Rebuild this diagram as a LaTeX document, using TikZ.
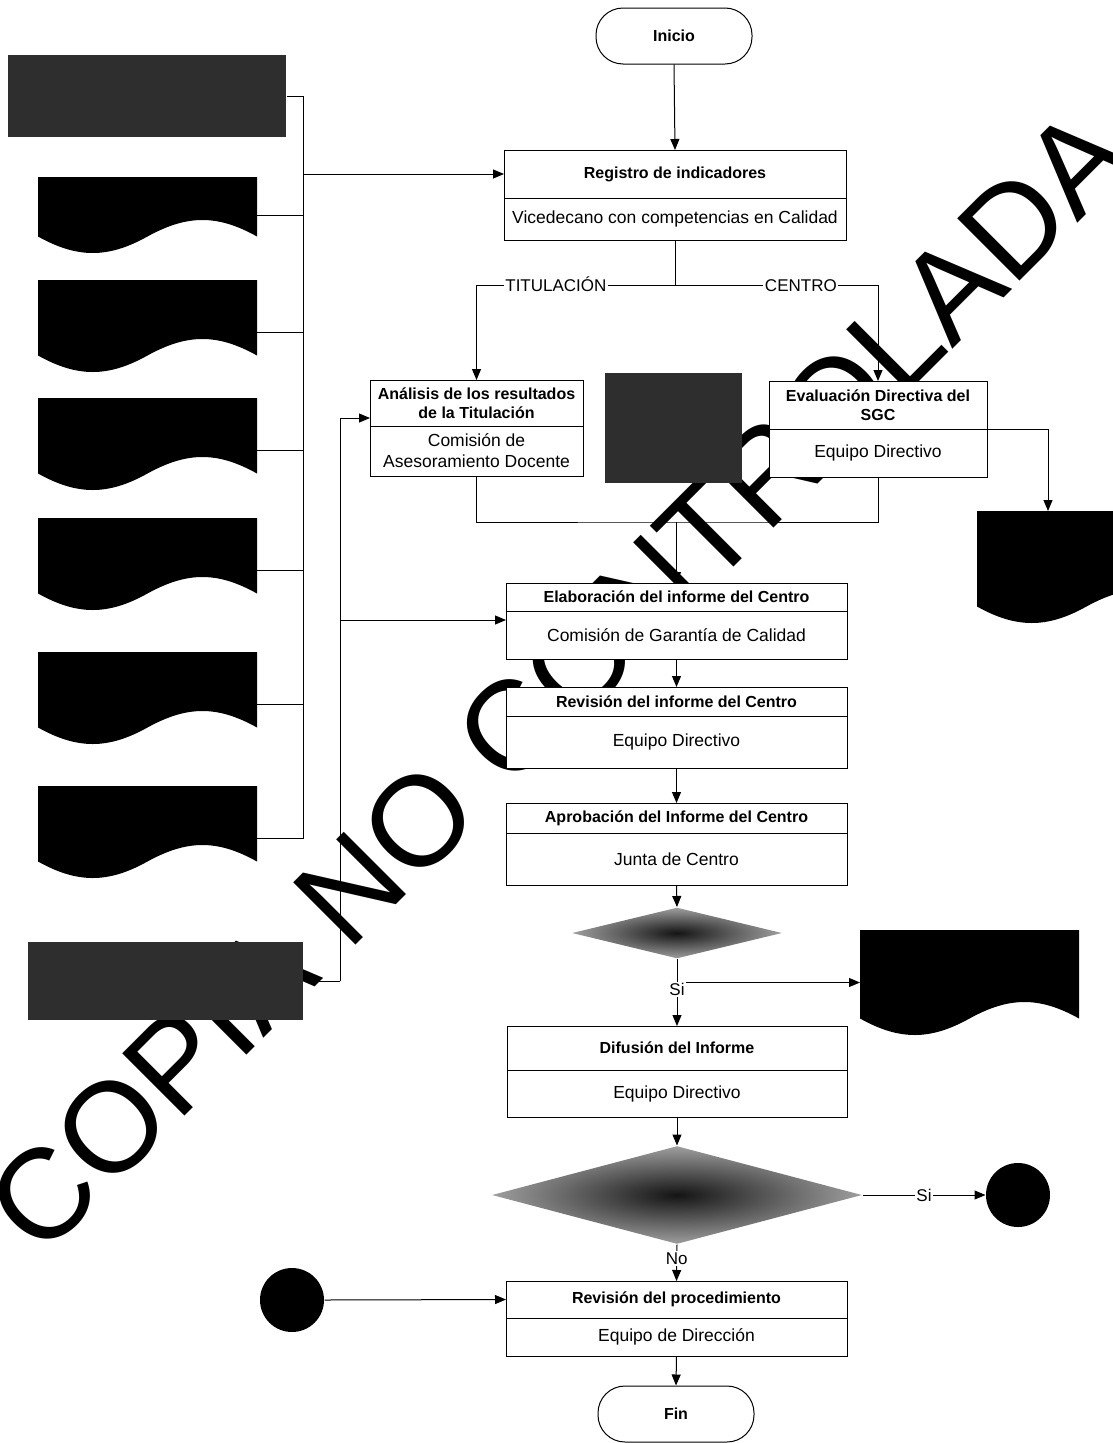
\documentclass[tikz,border=0pt]{standalone}
\usepackage{fontspec}
\setmainfont{Liberation Sans}
\usetikzlibrary{arrows.meta,positioning,shapes.geometric,calc}

\tikzset{
  titulo/.style={draw, fill=white, font=\bfseries\fontsize{16}{19.5}\selectfont, align=center, inner sep=1pt, outer sep=0pt},
  rol/.style={draw, fill=white, font=\fontsize{17.5}{21}\selectfont, align=center, inner sep=1pt, outer sep=0pt},
  terminal/.style={draw, fill=white, rounded corners=27pt, minimum width=156pt, minimum height=56pt, font=\bfseries\fontsize{16}{19}\selectfont},
  gris/.style={fill=black!82, inner sep=0pt},
  decision/.style={diamond, inner sep=0pt, inner color=black!92, outer color=black!38},
  conector/.style={circle, fill=black, minimum size=64pt, inner sep=0pt},
  etiqueta/.style={fill=white, inner sep=1.5pt, text height=12.2pt, text depth=0pt, font=\fontsize{17}{19}\selectfont},
  docbox/.style={minimum width=219pt, inner sep=0pt, outer sep=0pt, anchor=north west},
}

% 文档形状: 名称, x, y, 高
\newcommand{\documento}[4]{%
  \node[docbox, minimum height=#4] (#1) at (#2,#3) {};
  \fill (#1.north west) -- (#1.north east) -- ([yshift=16.5pt]#1.south east)
    .. controls ([xshift=-39.4pt,yshift=38.5pt]#1.south east) and ([xshift=-69.6pt,yshift=38.5pt]#1.south east) .. ([yshift=16.5pt]#1.south)
    .. controls ([xshift=-39.4pt,yshift=-5.5pt]#1.south) and ([xshift=-70.1pt,yshift=-5.5pt]#1.south) .. ([yshift=16.5pt]#1.south west) -- cycle;
}

\begin{document}
\begin{tikzpicture}[x=1pt, y=-1pt, >={Triangle[length=11pt,width=9pt]}, line width=1pt]
  \useasboundingbox (0,0) rectangle (1112,1443);
  % 水印
  \node[rotate=45, font=\fontsize{128}{128}\selectfont] (marca) at (559,680) {COPIA NO CONTROLADA};
  % 左侧输入
  \node[gris, minimum width=278pt, minimum height=82pt] (gris1) at (147,96) {};
  \documento{d1}{38}{177}{76}
  \documento{d2}{38}{280}{92}
  \documento{d3}{38}{398}{92}
  \documento{d4}{38}{518}{92}
  \documento{d5}{38}{652}{92}
  \documento{d6}{38}{786}{92}
  \node[gris, minimum width=275pt, minimum height=78pt] (gris2) at (165.5,981) {};
  % 右侧输出
  \node[gris, minimum width=137pt, minimum height=110pt] (gris3) at (673.5,428) {};
  \documento{d7}{977}{511}{112}
  \documento{d8}{860}{930}{105}

  % 开始
  \node[terminal] (inicio) at (674,36) {Inicio};
  % 登记
  \node[titulo, minimum width=342pt, minimum height=48pt] (reg) at (675,174) {Registro de indicadores};
  \node[rol, minimum width=342pt, minimum height=42pt, below=0pt of reg] (regr) {Vicedecano con competencias en Calidad};
  % 两个分支
  \node[titulo, minimum width=213pt, minimum height=46pt] (ana) at (476.5,403) {Análisis de los resultados\\de la Titulación};
  \node[rol, minimum width=213pt, minimum height=50pt, below=0pt of ana] (anar) {Comisión de\\Asesoramiento Docente};
  \node[titulo, minimum width=218pt, minimum height=48pt] (eva) at (878,405) {Evaluación Directiva del\\SGC};
  \node[rol, minimum width=218pt, minimum height=48pt, below=0pt of eva] (evar) {Equipo Directivo};
  % 报告
  \node[titulo, minimum width=341pt, minimum height=28pt] (elab) at (676.5,597) {Elaboración del informe del Centro};
  \node[rol, minimum width=341pt, minimum height=48pt, below=0pt of elab] (elabr) {Comisión de Garantía de Calidad};
  \node[titulo, minimum width=341pt, minimum height=29pt] (revi) at (676.5,701.5) {Revisión del informe del Centro};
  \node[rol, minimum width=341pt, minimum height=52pt, below=0pt of revi] (revir) {Equipo Directivo};
  \node[titulo, minimum width=341pt, minimum height=30pt] (apro) at (676.5,818) {Aprobación del Informe del Centro};
  \node[rol, minimum width=341pt, minimum height=52pt, below=0pt of apro] (apror) {Junta de Centro};
  % 判断 1
  \node[decision, minimum width=210pt, minimum height=51pt] (dec1) at (677,933) {};
  % 发布
  \node[titulo, minimum width=340pt, minimum height=44pt] (dif) at (677,1048) {Difusión del Informe};
  \node[rol, minimum width=340pt, minimum height=47pt, below=0pt of dif] (difr) {Equipo Directivo};
  % 判断 2
  \node[decision, minimum width=370pt, minimum height=98pt] (dec2) at (677,1195) {};
  \node[conector] (conR) at (1018,1195) {};
  \node[conector] (conL) at (292,1300) {};
  % 程序审查
  \node[titulo, minimum width=341pt, minimum height=37pt] (revp) at (676.5,1299.5) {Revisión del procedimiento};
  \node[rol, minimum width=341pt, minimum height=38pt, below=0pt of revp] (revpr) {Equipo de Dirección};
  % 结束
  \node[terminal] (fin) at (676,1414) {Fin};

  % 左侧总线
  \coordinate (t1) at (303,96);
  \draw (gris1.east) -- (t1) |- ([yshift=-6pt]d6.east);
  \draw (d1.east) -- (d1.east -| t1);
  \draw ([yshift=-6pt]d2.east) -- ([yshift=-6pt]d2.east -| t1);
  \draw ([yshift=-6pt]d3.east) -- ([yshift=-6pt]d3.east -| t1);
  \draw ([yshift=-6pt]d4.east) -- ([yshift=-6pt]d4.east -| t1);
  \draw ([yshift=-6pt]d5.east) -- ([yshift=-6pt]d5.east -| t1);
  \draw[->] (t1 |- reg.west) -- (reg.west);
  % 第二条总线
  \coordinate (t2) at (340,981);
  \draw[->] (t2) |- ([yshift=-15pt]ana.west);
  \draw[->] (t2) -- (gris2.east);
  \draw[->] ([yshift=-9pt]elabr.north west -| t2) -- ([yshift=-9pt]elabr.north west);

  % 主流程
  \draw[->] (inicio.south) -- (reg.north);
  \draw (regr.south) -- ++(0,45) coordinate (rama);
  \draw[->] (rama) -| node[etiqueta, pos=0.3] {TITULACIÓN} (ana.north);
  \draw[->] (rama) -| node[etiqueta, pos=0.31] {CENTRO} (eva.north);
  \draw[->] (evar.north east) -| ([xshift=71pt]d7.north west);
  \coordinate (union) at (676.5,522);
  \draw (anar.south) |- (union) -| (evar.south);
  \draw[->] (union) -- (elab.north);
  \draw[->] (elabr.south) -- (revi.north);
  \draw[->] (revir.south) -- (apro.north);
  \draw[->] (apror.south) -- (dec1.north);
  \draw[->] (dec1.south |- d8.west) -- (d8.west);
  \draw[->] (dec1.south) -- node[etiqueta, pos=0.46] {Si} (dif.north);
  \draw[->] (difr.south) -- (dec2.north);
  \draw[->] (dec2.east) -- node[etiqueta] {Si} (conR.west);
  \draw[->] (dec2.south) -- node[etiqueta, pos=0.38] {No} (revp.north);
  \draw[->] (conL.east) -- (revp.west);
  \draw[->] (revpr.south) -- (fin.north);
\end{tikzpicture}
\end{document}
